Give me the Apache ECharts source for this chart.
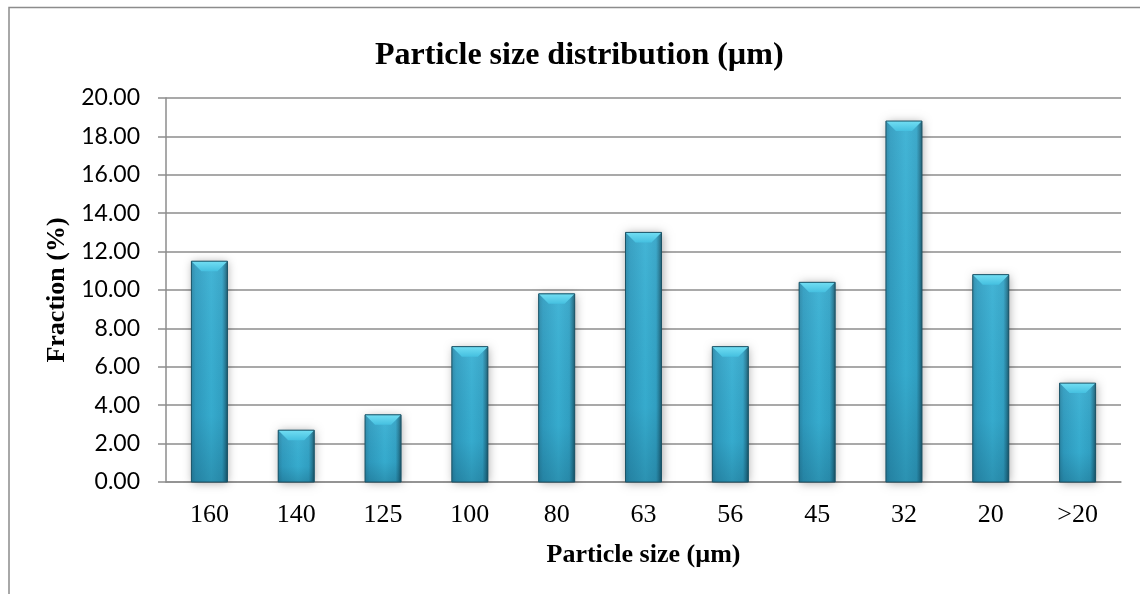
<!DOCTYPE html>
<html>
<head>
<meta charset="utf-8">
<script src="https://cdn.jsdelivr.net/npm/echarts@6/dist/echarts.min.js"></script>
<style>
  html, body { margin: 0; padding: 0; background: #ffffff; }
  #chart { width: 1140px; height: 594px; }
</style>
</head>
<body>
<div id="chart"></div>
<script>
// Particle size classes (µm) and their mass fractions (%)
const categories = ['160', '140', '125', '100', '80', '63', '56', '45', '32', '20', '>20'];
const fractions = [11.5, 2.7, 3.5, 7.05, 9.8, 13.0, 7.05, 10.4, 18.8, 10.8, 5.15];

// Value axis range
const yMin = 0;
const yMax = 20;
const yStep = 2;

const serif = "'Liberation Serif', 'Times New Roman', serif";
const sans = "Lato, 'Liberation Sans', sans-serif";
const gridGray = '#8d8d8d';

// Bevelled bar drawn from the axis coordinates
function renderBar(params, api) {
  const idx = api.value(0);
  const val = api.value(1);
  const topPt = api.coord([idx, val]);
  const basePt = api.coord([idx, 0]);
  const w = api.size([1, 0])[0] * 0.415;
  const x0 = topPt[0] - w / 2;
  const x1 = topPt[0] + w / 2;
  const y0 = topPt[1];
  const y1 = basePt[1];
  const h = y1 - y0;
  const b = Math.min(10, h / 2);
  const G = echarts.graphic.LinearGradient;
  return {
    type: 'group',
    children: [
      {
        type: 'rect',
        shape: { x: x0, y: y0, width: w, height: h },
        style: { fill: '#2f9cbf', shadowBlur: 9, shadowColor: 'rgba(0,0,0,0.35)', shadowOffsetX: 1, shadowOffsetY: 1 }
      },
      {
        type: 'rect',
        shape: { x: x0, y: y0, width: w, height: h },
        style: {
          fill: new G(0, 0, 1, 0, [
            { offset: 0, color: '#2a88a8' },
            { offset: 0.12, color: '#2f9cc0' },
            { offset: 0.55, color: '#38b0d3' },
            { offset: 0.85, color: '#32a3c6' },
            { offset: 0.93, color: '#26809d' },
            { offset: 1, color: '#1b5a6e' }
          ])
        }
      },
      {
        type: 'rect',
        shape: { x: x0, y: y0, width: w, height: h },
        style: {
          fill: new G(0, 0, 0, 1, [
            { offset: 0, color: 'rgba(255,255,255,0.06)' },
            { offset: 0.7, color: 'rgba(0,40,60,0.04)' },
            { offset: 1, color: 'rgba(0,40,60,0.22)' }
          ])
        }
      },
      {
        type: 'polygon',
        shape: { points: [[x0, y0], [x1, y0], [x1 - b, y0 + b], [x0 + b, y0 + b]] },
        style: {
          fill: new G(0, 0, 0, 1, [
            { offset: 0, color: '#72def3' },
            { offset: 1, color: '#45c0e0' }
          ])
        }
      },
      {
        type: 'rect',
        shape: { x: x0, y: y0, width: w, height: h },
        style: { fill: 'none', stroke: '#1c5366', lineWidth: 1 }
      }
    ]
  };
}

const chart = echarts.init(document.getElementById('chart'), null, { renderer: 'canvas' });

chart.setOption({
  animation: false,
  backgroundColor: '#ffffff',
  title: {
    text: 'Particle size distribution (µm)',
    left: 370,
    top: 35,
    textStyle: { fontFamily: serif, fontWeight: 'bold', fontSize: 32, color: '#000000' }
  },
  graphic: [
    {
      type: 'rect',
      shape: { x: 9, y: 7.5, width: 1160, height: 620 },
      style: { fill: 'none', stroke: '#8c8c8c', lineWidth: 1.5 },
      silent: true
    }
  ],
  grid: { left: 166, right: 19, top: 98, bottom: 112, containLabel: false },
  xAxis: {
    type: 'category',
    data: categories,
    name: 'Particle size (µm)',
    nameLocation: 'middle',
    nameGap: 60,
    nameTextStyle: { fontFamily: serif, fontWeight: 'bold', fontSize: 26, color: '#000000' },
    axisLine: { show: true, lineStyle: { color: gridGray, width: 1.5 } },
    axisTick: { show: false },
    axisLabel: { fontFamily: serif, fontSize: 26, color: '#000000', margin: 20 },
    splitLine: { show: false }
  },
  yAxis: {
    type: 'value',
    min: yMin,
    max: yMax,
    interval: yStep,
    name: 'Fraction (%)',
    nameLocation: 'middle',
    nameRotate: 90,
    nameGap: 92,
    nameTextStyle: { fontFamily: serif, fontWeight: 'bold', fontSize: 26, color: '#000000' },
    axisLine: { show: true, lineStyle: { color: gridGray, width: 1.5 } },
    axisTick: { show: true, inside: false, length: 8, lineStyle: { color: gridGray, width: 1.5 } },
    axisLabel: {
      fontFamily: sans,
      fontSize: 23,
      color: '#000000',
      margin: 26,
      formatter: v => v.toFixed(2)
    },
    splitLine: { show: true, lineStyle: { color: gridGray, width: 1.5 } }
  },
  series: [
    {
      type: 'custom',
      renderItem: renderBar,
      encode: { x: 0, y: 1 },
      data: fractions.map((v, i) => [i, v]),
      clip: false
    }
  ]
});
</script>
</body>
</html>
